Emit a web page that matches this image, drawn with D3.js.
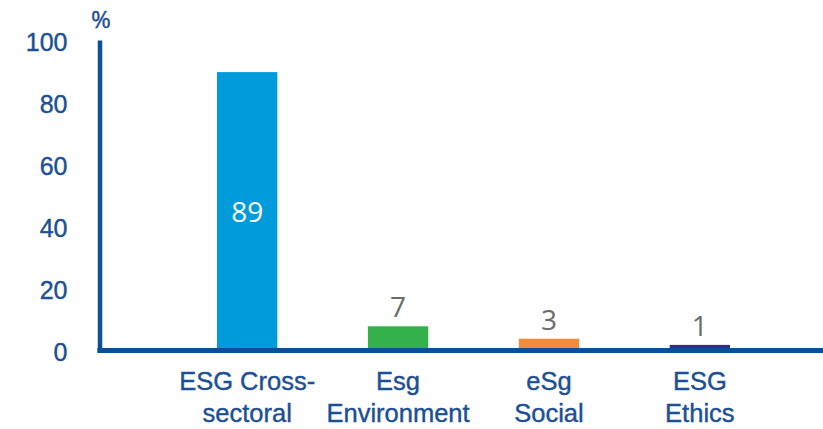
<!DOCTYPE html>
<html lang="en">
<head>
<meta charset="UTF-8">
<script src="https://d3js.org/d3.v7.min.js"></script>
<title>ESG funds</title>
<style>
    body { margin: 0; background: #fff; }
    svg { display: block; font-family: "Open Sans", "Noto Sans", sans-serif; }
    .thick { stroke-width: 0.4px; paint-order: stroke; }
</style>
</head>
<body>
<svg id="chart"></svg>
<script>
const categories = ["ESG Cross-sectoral", "Esg Environment", "eSg Social", "ESG Ethics"];
const labelLines = [["ESG Cross-", "sectoral"], ["Esg", "Environment"], ["eSg", "Social"], ["ESG", "Ethics"]];
const values = [89, 7, 3, 1];
const barColors = ["#009bdb", "#34b14b", "#f28b3c", "#3e2a85"];
const yTicks = [0, 20, 40, 60, 80, 100];

const w = 823, h = 429;
const axisColor = "#0b4f9a";
const textColor = "#1c4f95";

const svg = d3.select("#chart").attr("width", w).attr("height", h);

const x = d3.scaleBand()
    .domain(categories)
    .range([217, 730])
    .paddingInner(0.6)
    .paddingOuter(0);

const y = d3.scaleLinear()
    .domain([0, 100])
    .range([350, 40]);

// bars
svg.selectAll("rect.bar")
    .data(values)
    .enter()
    .append("rect")
    .attr("class", "bar")
    .attr("x", (d, i) => x(categories[i]))
    .attr("y", d => y(d) - 2)
    .attr("width", x.bandwidth())
    .attr("height", d => y(0) - y(d) + 2)
    .attr("fill", (d, i) => barColors[i]);

// y axis
const yAxis = d3.axisLeft(y).tickValues(yTicks).tickSize(0).tickPadding(32);
const gy = svg.append("g")
    .attr("transform", "translate(99.5,0)")
    .call(yAxis);
gy.select(".domain").attr("stroke", axisColor).attr("stroke-width", 4.5);
gy.selectAll("text")
    .attr("class", "thick")
    .attr("fill", textColor)
    .attr("stroke", textColor)
    .style("font-size", "25px")
    .attr("dy", "0.4em");

svg.append("text")
    .attr("class", "thick")
    .attr("x", 101)
    .attr("y", 28)
    .attr("text-anchor", "middle")
    .attr("fill", textColor)
    .attr("stroke", textColor)
    .style("font-size", "24px")
    .text("%");

// baseline
svg.append("line")
    .attr("x1", 97.3).attr("x2", w)
    .attr("y1", y(0) + 0.5).attr("y2", y(0) + 0.5)
    .attr("stroke", axisColor)
    .attr("stroke-width", 5);

// value labels
svg.selectAll("text.val")
    .data(values)
    .enter()
    .append("text")
    .attr("class", "val")
    .attr("x", (d, i) => x(categories[i]) + x.bandwidth() / 2)
    .attr("y", d => d > 50 ? (y(d) + y(0)) / 2 : y(d) - 11)
    .attr("dy", d => d > 50 ? "0.36em" : 0)
    .attr("text-anchor", "middle")
    .attr("fill", d => d > 50 ? "#fff" : "#6b6b6b")
    .style("font-size", "28px")
    .text(d => d);

// category labels
const xAxis = d3.axisBottom(x).tickSize(0).tickFormat("");
const gx = svg.append("g")
    .attr("transform", "translate(0," + y(0) + ")")
    .call(xAxis);
gx.select(".domain").remove();
gx.selectAll(".tick").each(function(d, i) {
    const t = d3.select(this).append("text")
        .attr("class", "thick")
        .attr("text-anchor", "middle")
        .attr("fill", textColor)
        .attr("stroke", textColor)
        .style("font-size", "25.5px");
    labelLines[i].forEach((line, j) => {
        t.append("tspan").attr("x", 0).attr("y", 40 + j * 32).text(line);
    });
});
</script>
</body>
</html>
